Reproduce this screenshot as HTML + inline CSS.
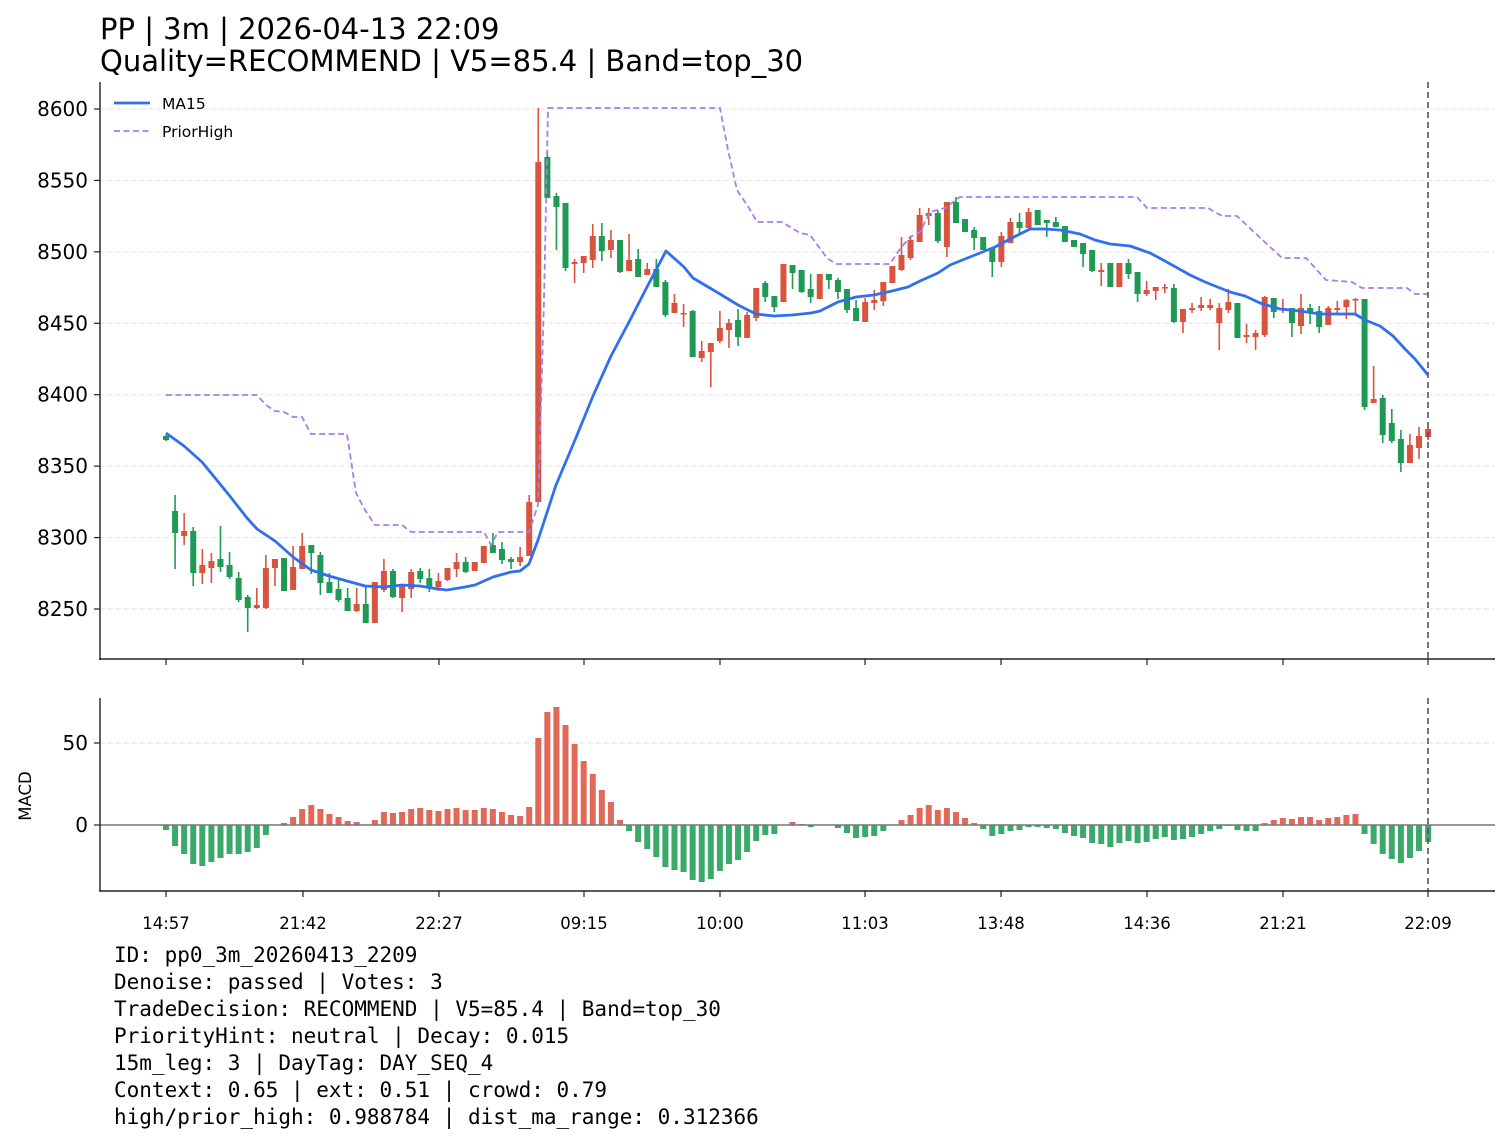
<!DOCTYPE html>
<html><head><meta charset="utf-8"><style>
html,body{margin:0;padding:0;background:#fff;}
svg{display:block;}
</style></head><body>
<svg id="s" width="1510" height="1143" xmlns="http://www.w3.org/2000/svg" font-family="DejaVu Sans, Liberation Sans, sans-serif">
<rect width="1510" height="1143" fill="#fff"/>
<text x="100" y="39" font-size="29" fill="#000">PP | 3m | 2026-04-13 22:09</text>
<text x="100" y="71" font-size="29" fill="#000">Quality=RECOMMEND | V5=85.4 | Band=top_30</text>
<g id="grid"></g>
<g id="cand"></g>
<g id="macd"></g>
<g id="lines"></g>
<g id="axes"></g>
<g font-family="DejaVu Sans Mono, Liberation Mono, monospace" font-size="21" fill="#000">
<text x="114" y="962">ID: pp0_3m_20260413_2209</text>
<text x="114" y="989">Denoise: passed | Votes: 3</text>
<text x="114" y="1016">TradeDecision: RECOMMEND | V5=85.4 | Band=top_30</text>
<text x="114" y="1043">PriorityHint: neutral | Decay: 0.015</text>
<text x="114" y="1070">15m_leg: 3 | DayTag: DAY_SEQ_4</text>
<text x="114" y="1097">Context: 0.65 | ext: 0.51 | crowd: 0.79</text>
<text x="114" y="1124">high/prior_high: 0.988784 | dist_ma_range: 0.312366</text>
</g>
</svg>
<script>
var NS="http://www.w3.org/2000/svg";
function el(p,t,a,txt){var e=document.createElementNS(NS,t);for(var k in a)e.setAttribute(k,a[k]);if(txt!==undefined)e.textContent=txt;document.getElementById(p).appendChild(e);return e;}
function X(i){return 166+9.08*i;}
var R="#d9543f",G="#1e9a55";
var C=[
['g',436,440,435,441],['g',511,533,495,569],['r',531,536,513,545],['g',531,573,527,586],['r',565,573,549,584],
['r',561,568,553,583],['g',559,567,526,572],['g',565,577,552,579],['g',578,600,572,602],['g',597,608,595,632],
['r',605,608,588,609],['r',568,608,555,609],['r',559,568,559,586],['g',558,591,558,591],['r',567,590,546,590],
['r',546,569,533,569],['g',545,553,545,574],['g',555,583,552,595],['g',582,593,573,593],['g',589,600,580,602],
['g',598,611,588,611],['r',604,611,588,612],['g',604,623,587,623],['r',582,623,582,623],['r',571,590,559,592],
['g',571,597,569,598],['r',585,598,585,612],['r',572,589,569,598],['g',571,579,568,583],['g',578,587,569,592],
['r',581,587,573,591],['r',568,580,568,581],['r',562,569,553,577],['g',562,572,557,573],['r',562,571,562,571],
['r',546,563,546,563],['g',545,553,533,553],['g',549,560,542,564],['g',559,562,557,569],['r',557,562,547,566],
['r',502,556,495,556],['r',162,502,108,502],['g',157,198,150,198],['g',196,207,193,250],['g',203,268,203,271],
['r',262,264,259,283],['r',256,263,256,273],['r',236,260,224,268],['g',236,251,223,261],['r',240,250,230,258],
['g',240,272,240,273],['r',260,271,234,271],['g',259,277,249,277],['r',269,275,263,275],['g',269,287,259,287],
['g',282,315,280,317],['r',303,313,294,313],['r',313,314,304,327],['g',311,357,310,357],['r',351,358,341,362],
['r',343,352,343,387],['r',328,341,311,343],['r',323,330,319,348],['g',320,337,309,346],['r',315,338,312,338],
['r',288,318,288,321],['g',283,297,281,302],['g',296,307,296,312],['r',264,302,264,302],['g',265,273,265,289],
['g',270,292,270,293],['g',289,297,274,303],['r',274,299,274,299],['g',274,280,274,289],['g',280,292,278,299],
['g',289,310,289,313],['g',308,321,300,321],['r',302,322,298,322],['r',300,303,290,310],['r',282,301,282,306],
['r',266,283,266,283],['r',255,270,237,271],['r',240,258,237,260],['r',215,242,208,242],['r',213,216,208,225],
['g',213,241,210,243],['r',202,247,202,257],['g',202,223,197,223],['g',219,232,219,232],['g',230,238,227,250],
['g',237,250,237,250],['g',248,262,248,277],['r',236,262,232,267],['r',222,243,218,243],['g',222,228,213,233],
['r',212,228,208,228],['g',210,225,210,225],['g',220,223,220,237],['g',222,227,217,227],['g',226,242,226,242],
['g',240,247,240,247],['g',243,254,243,267],['g',250,271,250,272],['r',270,272,263,286],['g',263,287,263,287],
['r',263,287,263,287],['g',263,274,259,279],['g',272,294,272,302],['r',290,294,281,296],['r',287,291,287,300],
['r',287,288,284,293],['g',288,322,284,323],['r',309,322,309,333],['r',308,310,303,313],['r',305,308,297,311],
['r',305,308,299,310],['r',308,323,303,350],['r',302,310,289,313],['g',303,338,303,338],['r',335,337,324,343],
['r',333,337,330,350],['r',297,335,296,337],['g',298,312,298,318],['r',308,310,299,313],['g',308,323,308,337],
['r',308,326,294,334],['g',308,312,304,324],['g',311,327,306,333],['r',308,325,306,325],['r',308,310,301,313],
['r',300,307,299,319],['r',299,300,298,313],['g',299,407,299,410],['r',399,403,366,403],['g',398,435,395,443],
['g',423,441,409,443],['g',439,463,430,472],['r',445,463,434,463],['r',436,448,427,459],['r',429,437,427,440]
];
for(var v=8250;v<=8600;v+=50){var y=109+(8600-v)*1.42857;el('grid','line',{x1:100,x2:1495,y1:y,y2:y,stroke:'#e3e3e3','stroke-width':1,'stroke-dasharray':'5,3'});
el('axes','line',{x1:94,x2:100,y1:y,y2:y,stroke:'#222','stroke-width':1.2});
el('axes','text',{x:88,y:y+7,'font-size':20,'text-anchor':'end',fill:'#000'},String(v));}
el('grid','line',{x1:100,x2:1495,y1:743,y2:743,stroke:'#e3e3e3','stroke-width':1,'stroke-dasharray':'5,3'});
C.forEach(function(c,i){var x=X(i),col=c[0]=='r'?R:G;
el('cand','line',{x1:x,x2:x,y1:c[3],y2:c[4],stroke:col,'stroke-width':1.6});
var h=Math.max(c[2]-c[1],1.5);el('cand','rect',{x:x-3,y:c[1],width:6,height:h,fill:col});});
var M=[830,846,854,864,866,862,858,854,854,852,848,835,825,823,817,809,805,809,814,817,821,822,825,820,812,813,812,809,808,810,811,809,808,810,810,808,809,812,815,816,807,738,712,707,725,744,761,774,790,802,820,831,842,849,857,867,870,872,880,882,879,871,864,860,852,841,835,834,825,822,824,827,825,825,828,833,838,837,836,831,825,820,815,808,805,810,808,812,818,823,829,836,834,831,830,827,827,828,829,833,836,838,843,844,847,843,841,843,842,839,837,840,839,837,834,831,829,826,830,831,831,823,820,818,819,817,817,820,818,817,815,814,834,844,854,859,863,858,851,842];
M.forEach(function(y,i){var x=X(i);var col=y<825?'#e0695a':'#3aa96a';
var t=Math.min(y,825),h=Math.abs(y-825);if(h<0.5)return;el('macd','rect',{x:x-3,y:t,width:6,height:h,fill:col});});
el('macd','line',{x1:100,x2:1495,y1:825,y2:825,stroke:'#777','stroke-width':1.6});
var ma=[[166,433],[184,446],[202,462],[229,495],[247,518],[257,529],[275,541],[293,557],[311,570],[329,576],[347,581],[365,586],[384,587],[402,585],[420,586],[438,589],[447,590],[465,587],[475,585],[493,577],[511,572],[520,571],[529,564],[538,540],[556,485],[575,440],[593,396],[611,356],[629,322],[647,287],[666,251],[684,267],[693,278],[720,294],[738,305],[756,314],[774,316],[792,315],[811,313],[820,311],[838,302],[856,297],[874,295],[892,291],[908,287],[920,281],[938,273],[950,265],[965,259],[980,253],[995,247],[1010,239],[1030,229],[1045,229],[1060,230],[1070,232],[1080,234],[1095,240],[1110,244],[1130,246],[1150,253],[1165,261],[1190,275],[1205,282],[1230,292],[1245,296],[1260,303],[1280,309],[1300,311],[1320,314],[1340,314],[1355,314],[1365,320],[1380,326],[1393,336],[1405,349],[1415,359],[1428,375]];
var ph=[[166,395],[257,395],[266,405],[275,411],[284,412],[293,417],[302,417],[311,434],[347,434],[356,493],[365,510],[375,525],[402,525],[411,532],[484,532],[491,545],[498,532],[520,532],[529,532],[538,505],[544,300],[548,108],[720,108],[728,150],[737,190],[749,208],[757,222],[782,222],[800,233],[810,235],[827,258],[836,264],[890,264],[900,249],[910,237],[920,232],[930,212],[945,208],[960,197],[1137,197],[1147,208],[1208,208],[1222,216],[1237,216],[1255,233],[1282,258],[1306,258],[1326,280],[1352,282],[1362,288],[1407,288],[1415,294],[1428,294]];
function pts(a){return a.map(function(p){return p.join(',');}).join(' ');}
el('lines','polyline',{points:pts(ph),fill:'none',stroke:'#a97de8','stroke-width':1.8,'stroke-dasharray':'6,3.5'});
el('lines','polyline',{points:pts(ma),fill:'none',stroke:'#2f6ff0','stroke-width':2.8,'stroke-linejoin':'round'});
el('lines','line',{x1:1428,x2:1428,y1:82,y2:659,stroke:'#555','stroke-width':1.6,'stroke-dasharray':'6,4'});
el('lines','line',{x1:1428,x2:1428,y1:698,y2:891,stroke:'#555','stroke-width':1.6,'stroke-dasharray':'6,4'});
el('lines','line',{x1:114,x2:150,y1:103,y2:103,stroke:'#2f6ff0','stroke-width':2.8});
el('lines','text',{x:162,y:109,'font-size':15.5,fill:'#000'},'MA15');
el('lines','line',{x1:114,x2:150,y1:131,y2:131,stroke:'#a97de8','stroke-width':1.8,'stroke-dasharray':'6,3.5'});
el('lines','text',{x:162,y:137,'font-size':15.5,fill:'#000'},'PriorHigh');
el('axes','line',{x1:100,x2:100,y1:82,y2:660,stroke:'#222','stroke-width':1.4});
el('axes','line',{x1:99,x2:1495,y1:659,y2:659,stroke:'#222','stroke-width':1.4});
el('axes','line',{x1:100,x2:100,y1:698,y2:891,stroke:'#222','stroke-width':1.4});
el('axes','line',{x1:99,x2:1495,y1:891,y2:891,stroke:'#222','stroke-width':1.4});
[[50,743],[0,825]].forEach(function(t){el('axes','line',{x1:94,x2:100,y1:t[1],y2:t[1],stroke:'#222','stroke-width':1.2});
el('axes','text',{x:88,y:t[1]+7,'font-size':20,'text-anchor':'end',fill:'#000'},String(t[0]));});
var xt=[[166,'14:57'],[303,'21:42'],[439,'22:27'],[584,'09:15'],[720,'10:00'],[865,'11:03'],[1001,'13:48'],[1147,'14:36'],[1283,'21:21'],[1428,'22:09']];
xt.forEach(function(t){el('axes','line',{x1:t[0],x2:t[0],y1:659,y2:665,stroke:'#222','stroke-width':1.2});
el('axes','line',{x1:t[0],x2:t[0],y1:891,y2:897,stroke:'#222','stroke-width':1.2});
el('axes','text',{x:t[0],y:929,'font-size':16.5,'text-anchor':'middle',fill:'#000'},t[1]);});
el('axes','text',{x:31,y:796,'font-size':16.5,'text-anchor':'middle',fill:'#000',transform:'rotate(-90 31 796)'},'MACD');
</script>
</body></html>
